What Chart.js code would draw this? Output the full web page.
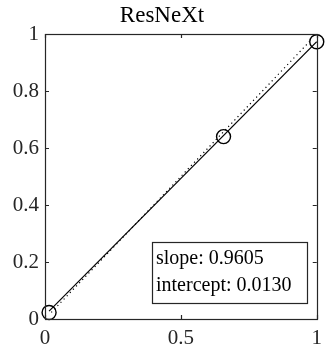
<!DOCTYPE html>
<html>
<head>
<meta charset="utf-8">
<script src="https://cdn.jsdelivr.net/npm/chart.js@4/dist/chart.umd.min.js"></script>
<style>
  html, body { margin: 0; padding: 0; background: #fff; }
  #wrap { width: 329px; height: 347px; }
</style>
</head>
<body>
<div id="wrap"><canvas id="c" width="329" height="347"></canvas></div>
<script>
const title = 'ResNeXt';
const predX = [0.015, 0.657, 1.0];
const predY = [0.023, 0.640, 0.973];
const slope = 0.9605;
const intercept = 0.0130;
const xTicks = [0, 0.5, 1];
const yTicks = [0, 0.2, 0.4, 0.6, 0.8, 1];

const SERIF = '"Liberation Serif", "Times New Roman", serif';
const AXIS = '#262626';

const points = predX.map((x, i) => ({ x: x, y: predY[i] }));
const xLo = Math.min(...predX), xHi = Math.max(...predX);
const fitLine = [
  { x: xLo, y: intercept + slope * xLo },
  { x: xHi, y: intercept + slope * xHi }
];
const yLo = Math.min(...predY), yHi = Math.max(...predY);
const identity = [{ x: yLo, y: yLo }, { x: yHi, y: yHi }];

// box around the axes with inward tick marks on all four sides
const boxTicks = {
  id: 'boxTicks',
  afterDatasetsDraw(chart) {
    const { ctx, chartArea: a, scales } = chart;
    const len = 4;
    ctx.save();
    ctx.strokeStyle = AXIS;
    ctx.lineWidth = 1.2;
    ctx.beginPath();
    scales.x.ticks.forEach(t => {
      const px = Math.round(scales.x.getPixelForValue(t.value)) + 0.5;
      ctx.moveTo(px, a.bottom); ctx.lineTo(px, a.bottom - len);
      ctx.moveTo(px, a.top); ctx.lineTo(px, a.top + len);
    });
    scales.y.ticks.forEach(t => {
      const py = Math.round(scales.y.getPixelForValue(t.value)) + 0.5;
      ctx.moveTo(a.left, py); ctx.lineTo(a.left + len, py);
      ctx.moveTo(a.right, py); ctx.lineTo(a.right - len, py);
    });
    ctx.stroke();
    ctx.strokeRect(Math.round(a.left) + 0.5, Math.round(a.top) + 0.5,
      Math.round(a.right - a.left), Math.round(a.bottom - a.top));
    ctx.restore();
  }
};

// text box with the fit parameters
const fitBox = {
  id: 'fitBox',
  afterDraw(chart) {
    const { ctx } = chart;
    const lines = ['slope: ' + slope.toFixed(4), 'intercept: ' + intercept.toFixed(4)];
    const x0 = 152.5, y0 = 242.5, w = 155, h = 61;
    ctx.save();
    ctx.fillStyle = '#fff';
    ctx.fillRect(x0, y0, w, h);
    ctx.strokeStyle = AXIS;
    ctx.lineWidth = 1.2;
    ctx.strokeRect(x0, y0, w, h);
    ctx.fillStyle = '#000';
    ctx.font = '20px ' + SERIF;
    ctx.textBaseline = 'alphabetic';
    ctx.fillText(lines[0], 156, 264);
    ctx.fillText(lines[1], 156, 291);
    ctx.restore();
  }
};

new Chart(document.getElementById('c'), {
  type: 'scatter',
  data: {
    datasets: [
      {
        data: identity,
        showLine: true,
        borderColor: '#000',
        borderWidth: 1.2,
        borderDash: [1.2, 3.3],
        pointRadius: 0
      },
      {
        data: fitLine,
        showLine: true,
        borderColor: '#000',
        borderWidth: 1.2,
        pointRadius: 0
      },
      {
        data: points,
        pointStyle: 'circle',
        pointRadius: 7,
        borderColor: '#000',
        borderWidth: 1.4,
        backgroundColor: 'rgba(0,0,0,0)',
        clip: false
      }
    ]
  },
  options: {
    responsive: false,
    animation: false,
    events: [],
    layout: { padding: { right: 5, left: 0, top: 0, bottom: 0 } },
    plugins: {
      legend: { display: false },
      tooltip: { enabled: false },
      title: {
        display: true,
        text: title,
        color: '#000',
        font: { family: SERIF, size: 23, weight: 'normal', lineHeight: 1.2 },
        padding: { top: 2, bottom: 4.4 }
      }
    },
    scales: {
      x: {
        type: 'linear',
        min: 0, max: 1,
        afterBuildTicks: s => { s.ticks = xTicks.map(v => ({ value: v })); },
        afterFit: s => { s.height = 28; },
        grid: { display: false, drawTicks: false },
        border: { display: false },
        ticks: {
          color: AXIS,
          padding: 7,
          font: { family: SERIF, size: 21 },
          callback: v => String(v)
        }
      },
      y: {
        type: 'linear',
        min: 0, max: 1,
        afterBuildTicks: s => { s.ticks = yTicks.map(v => ({ value: v })); },
        afterFit: s => { s.width = 45; },
        grid: { display: false, drawTicks: false },
        border: { display: false },
        ticks: {
          color: AXIS,
          padding: 6,
          font: { family: SERIF, size: 21 },
          callback: v => String(v)
        }
      }
    }
  },
  plugins: [boxTicks, fitBox]
});
</script>
</body>
</html>
